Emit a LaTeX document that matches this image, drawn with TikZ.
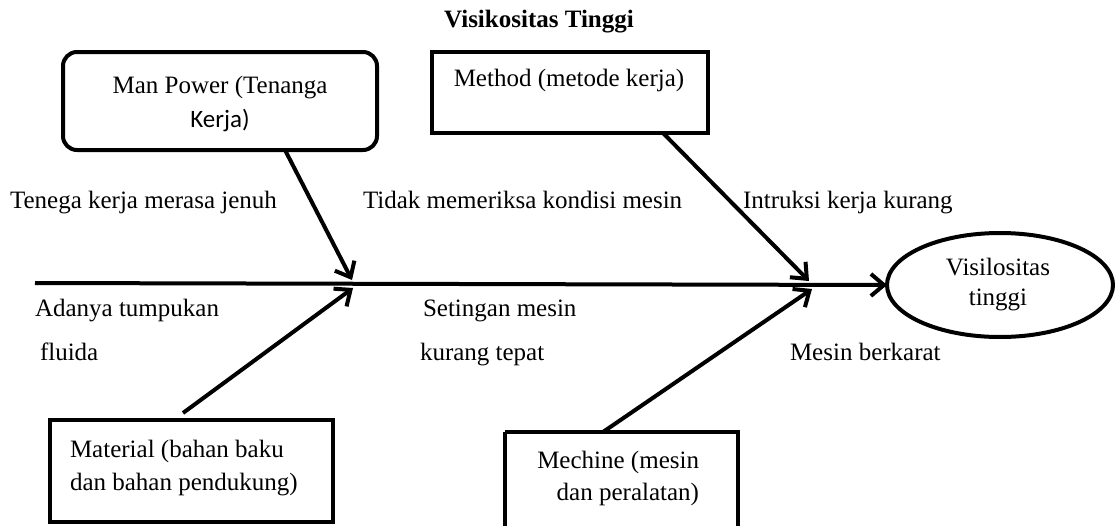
\documentclass[tikz,border=0pt]{standalone}
\usepackage{fontspec}
\setmainfont{Liberation Serif}
\newfontfamily\calibfont{Carlito}
\usetikzlibrary{arrows.meta,shapes.geometric}
\begin{document}
\begin{tikzpicture}[x=1pt,y=-1pt,
  every node/.style={font=\fontsize{25}{35}\selectfont, inner sep=0pt, outer sep=0pt},
  boxline/.style={draw, line width=4pt},
  txt/.style={anchor=base west},
  ctxt/.style={anchor=base},
  bone/.style={line width=4pt, -{Straight Barb[length=13pt,width=22pt,line width=4pt]}}
]
\path[use as bounding box] (0,0) rectangle (1119,525);
% title
\node[ctxt, font=\fontsize{25}{30}\selectfont\bfseries] (title) at (539,27) {Visikositas Tinggi};
% boxes
\draw[boxline, rounded corners=14pt] (63,52) rectangle (377,150);
\coordinate (mpS) at (285,150);
\draw[boxline] (432,52) rectangle (708,133);
\coordinate (meS) at (663,133);
\draw[boxline] (50,420) rectangle (333,522);
\coordinate (maN) at (183,413);
\draw[boxline] (505,432) -- (505,530) (505,432) -- (738,432) -- (738,530);
\coordinate (mcN) at (603,432);
% box texts
\node[ctxt] (mpt1) at (220,93) {Man Power (Tenanga};
\node[ctxt, font=\fontsize{25}{30}\calibfont] (mpt2) at (220,127) {Kerja)};
\node[ctxt] (met) at (569,86) {Method (metode kerja)};
\node[txt] (mat1) at (70,457) {Material (bahan baku};
\node[txt] (mat2) at (70,490) {dan bahan pendukung)};
\node[anchor=base east] (mct1) at (699,468) {Mechine (mesin};
\node[anchor=base east] (mct2) at (699,500) {dan peralatan)};
% effect
\node[draw, ellipse, line width=4pt, minimum width=226pt, minimum height=104pt] (eff) at (1000,285) {};
\node[ctxt] (efft1) at (998,275) {Visilositas};
\node[ctxt] (efft2) at (998,305) {tinggi};
% spine
\coordinate (s0) at (35,283);
\draw[bone] (s0) -- (eff.west);
% bones
\draw[bone] (mpS) -- (352,280);
\draw[bone] (maN) -- (353,288);
\draw[bone] (meS) -- (809,281);
\draw[bone] (mcN) -- (812,289);
% cause labels
\node[txt] (l1) at (10,208) {Tenega kerja merasa jenuh};
\node[txt] (l2) at (363,208) {Tidak memeriksa kondisi mesin};
\node[txt] (l3) at (743,208) {Intruksi kerja kurang};
\node[txt] (l4) at (35,316) {Adanya tumpukan};
\node[txt] (l5) at (40,360) {fluida};
\node[txt] (l6) at (423,316) {Setingan mesin};
\node[txt] (l7) at (420,360) {kurang tepat};
\node[txt] (l8) at (790,360) {Mesin berkarat};
\end{tikzpicture}
\end{document}
